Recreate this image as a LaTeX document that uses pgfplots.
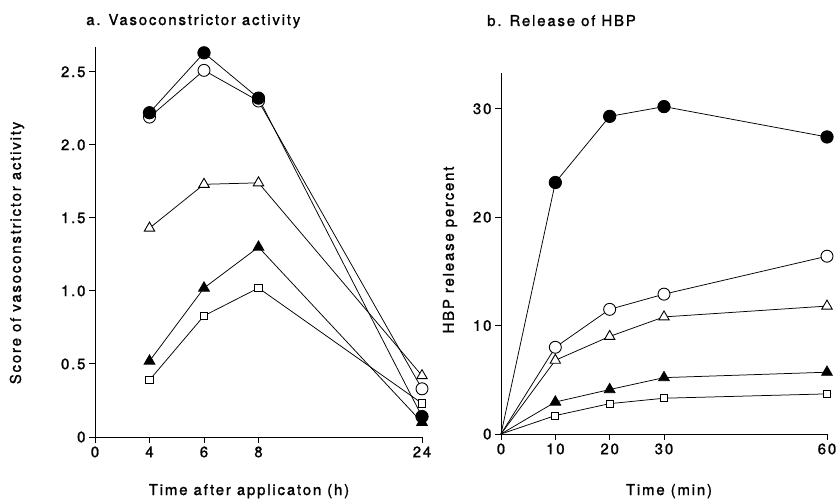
\documentclass[border=0pt]{standalone}
\usepackage{fontspec}
\setmainfont{TeX Gyre Heros}[LetterSpace=12, FakeBold=1.3]
\usepackage{pgfplots}
\pgfplotsset{compat=1.18}

\newcommand{\lbl}{\fontsize{15}{17}\selectfont}

\pgfplotsset{
  panel/.style={
    scale only axis, clip=false,
    axis x line*=bottom, axis y line*=left,
    axis line style={line width=1pt, -},
    tick style={line width=1pt, black},
    tick align=outside, major tick length=6pt,
    ticklabel style={font=\lbl},
    /pgf/number format/assume math mode=true,
    every axis plot/.append style={line width=0.75pt, black},
  },
  fcirc/.style={mark=*, mark size=6.2pt, mark options={solid, fill=black, line width=0.8pt}},
  ocirc/.style={mark=*, mark size=6pt, mark options={solid, fill=white, line width=0.9pt}},
  otri/.style={mark=triangle*, mark size=6pt, mark options={solid, fill=white, line width=0.9pt}},
  ftri/.style={mark=triangle*, mark size=6.2pt, mark options={solid, fill=black, line width=0.8pt}},
  osq/.style={mark=square*, mark size=3.6pt, mark options={solid, fill=white, line width=0.9pt}},
}

\begin{document}
\begin{tikzpicture}
\path[use as bounding box] (0,0) rectangle (838pt,501pt);

% Panel a: vasoconstrictor score against time after application
\begin{axis}[panel,
  at={(95pt,64pt)}, anchor=south west,
  width=327pt, height=390pt,
  xmin=0, xmax=6, ymin=0, ymax=2.67,
  xtick={0,1,2,3,6}, xticklabels={0,4,6,8,24},
  ytick={0,0.5,1,1.5,2,2.5}, yticklabels={0,0.5,1.0,1.5,2.0,2.5},
]
\addplot[ocirc] coordinates {(1,2.19) (2,2.51) (3,2.30) (6,0.33)};
\addplot[fcirc] coordinates {(1,2.22) (2,2.63) (3,2.32) (6,0.14)};
\addplot[otri] coordinates {(1,1.43) (2,1.73) (3,1.74) (6,0.42)};
\addplot[osq] coordinates {(1,0.39) (2,0.83) (3,1.02) (6,0.23)};
\addplot[ftri] coordinates {(1,0.52) (2,1.02) (3,1.30) (6,0.10)};
\end{axis}

% Panel b: release of HBP against time
\begin{axis}[panel,
  at={(501pt,67pt)}, anchor=south west,
  width=326pt, height=361pt,
  xmin=0, xmax=60, ymin=0, ymax=33.3,
  xtick={0,10,20,30,60}, ytick={0,10,20,30},
]
\addplot[fcirc, mark indices={2,3,4,5}] coordinates {(0,0) (10,23.2) (20,29.3) (30,30.2) (60,27.4)};
\addplot[ocirc, mark indices={2,3,4,5}] coordinates {(0,0) (10,8.0) (20,11.5) (30,12.9) (60,16.4)};
\addplot[otri, mark indices={2,3,4,5}] coordinates {(0,0) (10,6.8) (20,9.0) (30,10.8) (60,11.8)};
\addplot[ftri, mark indices={2,3,4,5}] coordinates {(0,0) (10,2.95) (20,4.1) (30,5.2) (60,5.7)};
\addplot[osq, mark indices={2,3,4,5}] coordinates {(0,0) (10,1.7) (20,2.8) (30,3.3) (60,3.7)};
\end{axis}

% Titles and axis labels
\node[anchor=base west, font=\lbl, inner sep=0pt] at (86pt,476pt) {a. Vasoconstrictor activity};
\node[anchor=base west, font=\lbl, inner sep=0pt] at (487pt,475pt) {b. Release of HBP};
\node[rotate=90, font=\lbl, inner sep=0pt] at (17pt,248pt) {Score of vasoconstrictor activity};
\node[rotate=90, font=\lbl, inner sep=0pt] at (450pt,251pt) {HBP release percent};
\node[anchor=base, font=\lbl, inner sep=0pt] at (249pt,6pt) {Time after applicaton (h)};
\node[anchor=base, font=\lbl, inner sep=0pt] at (669pt,6pt) {Time (min)};
\end{tikzpicture}
\end{document}
